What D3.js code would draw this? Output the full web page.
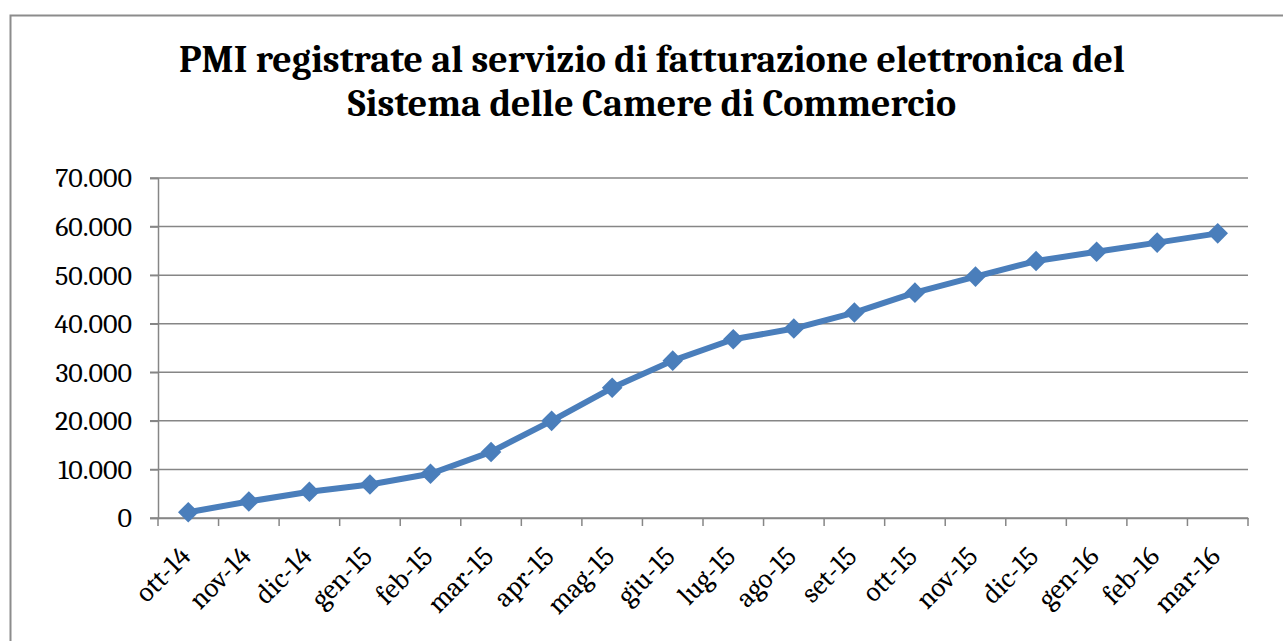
<!DOCTYPE html>
<html>
<head>
<meta charset="utf-8">
<script src="https://cdn.jsdelivr.net/npm/d3@7"></script>
<style>
  html, body { margin: 0; padding: 0; background: #fff; overflow: hidden; }
  svg { display: block; }
</style>
</head>
<body>
<div id="chart"></div>
<script>
// PMI registrate - fatturazione elettronica
const months = ["ott-14", "nov-14", "dic-14", "gen-15", "feb-15", "mar-15", "apr-15", "mag-15", "giu-15",
    "lug-15", "ago-15", "set-15", "ott-15", "nov-15", "dic-15", "gen-16", "feb-16", "mar-16"];
const registrate = [1200, 3400, 5400, 6900, 9100, 13600, 20000, 26800, 32400,
    36800, 39000, 42300, 46400, 49700, 52900, 54800, 56700, 58600];
const yTicks = [0, 10000, 20000, 30000, 40000, 50000, 60000, 70000];
const titleLines = ["PMI registrate al servizio di fatturazione elettronica del", "Sistema delle Camere di Commercio"];

const width = 1283, height = 641;
const margin = { left: 158, right: 35, top: 178, bottom: 123 };
const serif = "Cambria, 'Liberation Serif', 'DejaVu Serif', serif";

const svg = d3.select("#chart").append("svg")
    .attr("width", width)
    .attr("height", height);

// chart frame (runs off the right and bottom edge)
svg.append("rect")
    .attr("x", 10.5).attr("y", 15.5)
    .attr("width", 1400).attr("height", 800)
    .attr("fill", "none")
    .attr("stroke", "#8c8c8c")
    .attr("stroke-width", 2);

const title = svg.append("text")
    .attr("text-anchor", "middle")
    .attr("font-family", serif)
    .attr("font-weight", "bold")
    .attr("font-size", 38)
    .attr("fill", "#000");
title.selectAll("tspan")
    .data(titleLines)
    .join("tspan")
    .attr("x", 652)
    .attr("y", (d, i) => 72 + i * 44)
    .text(d => d);

const x = d3.scaleBand()
    .domain(months)
    .range([margin.left, width - margin.right]);

const y = d3.scaleLinear()
    .domain([0, 70000])
    .range([height - margin.bottom, margin.top]);

const fmt = v => d3.format(",")(v).replace(/,/g, ".");

// gridlines
svg.append("g")
    .selectAll("line")
    .data(yTicks)
    .join("line")
    .attr("x1", margin.left - 8)
    .attr("x2", width - margin.right)
    .attr("y1", d => y(d))
    .attr("y2", d => y(d))
    .attr("stroke", "#868686")
    .attr("stroke-width", 1.5);

// y axis
const yAxis = svg.append("g")
    .attr("transform", `translate(${margin.left},0)`)
    .call(d3.axisLeft(y).tickValues(yTicks).tickFormat(fmt).tickSize(8).tickPadding(18));
yAxis.select(".domain").attr("stroke", "#868686").attr("stroke-width", 1.5);
yAxis.selectAll(".tick line").attr("stroke", "#868686").attr("stroke-width", 1.5);
yAxis.selectAll("text")
    .attr("font-family", serif)
    .attr("font-size", 28)
    .attr("fill", "#000");

// x axis
const xAxis = svg.append("g")
    .attr("transform", `translate(0,${y(0)})`)
    .call(d3.axisBottom(x).tickSize(0).tickFormat(""));
xAxis.select(".domain").attr("stroke", "#868686").attr("stroke-width", 1.5);

// tick marks between categories
svg.append("g")
    .selectAll("line")
    .data(months.concat([null]))
    .join("line")
    .attr("x1", (d, i) => margin.left + i * x.step())
    .attr("x2", (d, i) => margin.left + i * x.step())
    .attr("y1", y(0))
    .attr("y2", y(0) + 8)
    .attr("stroke", "#868686")
    .attr("stroke-width", 1.5);

svg.append("g")
    .selectAll("text")
    .data(months)
    .join("text")
    .attr("transform", d => `translate(${x(d) + x.bandwidth() / 2 + 4},${y(0) + 40}) rotate(-45)`)
    .attr("text-anchor", "end")
    .attr("font-family", serif)
    .attr("font-size", 28)
    .attr("fill", "#000")
    .text(d => d);

// series
const cx = d => x(d) + x.bandwidth() / 2;
const line = d3.line()
    .x((d, i) => cx(months[i]))
    .y(d => y(d));

svg.append("path")
    .datum(registrate)
    .attr("d", line)
    .attr("fill", "none")
    .attr("stroke", "#4a7ebb")
    .attr("stroke-width", 6)
    .attr("stroke-linejoin", "round");

const diamond = d3.symbol().type(d3.symbolDiamond2).size(270);
svg.append("g")
    .selectAll("path")
    .data(registrate)
    .join("path")
    .attr("transform", (d, i) => `translate(${cx(months[i])},${y(d)})`)
    .attr("d", diamond)
    .attr("fill", "#4a7ebb");
</script>
</body>
</html>
